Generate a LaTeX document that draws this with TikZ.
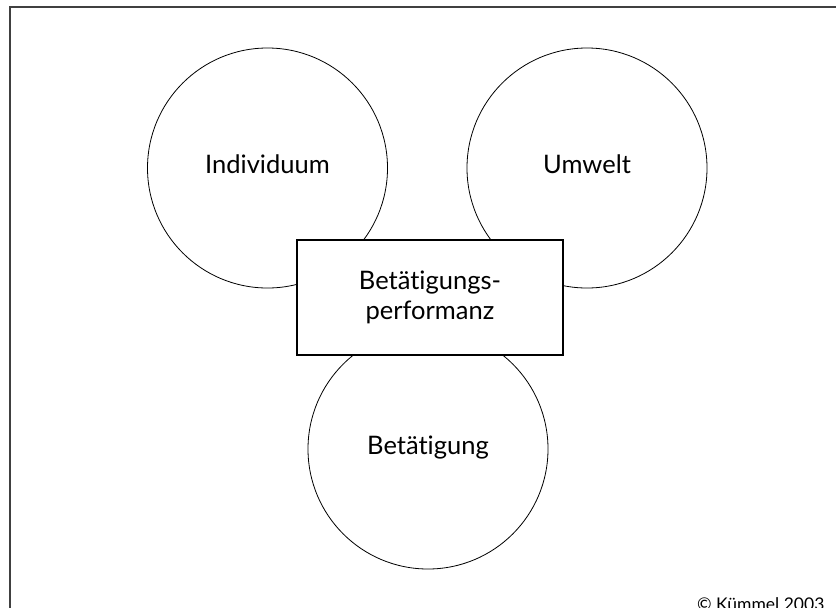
\documentclass[tikz,border=0pt]{standalone}
\usepackage{fontspec}
\setmainfont{Lato}[Ligatures={NoCommon,NoRare}]
% keeps "t" and "i" as separate glyphs
\newcommand{\nolig}{\kern0pt }
\begin{document}
\begin{tikzpicture}[x=1pt,y=-1pt,
  ringnode/.style={draw=black, line width=0.8pt, circle, minimum size=240pt, inner sep=0pt},
  ringtext/.style={font=\fontsize{25.5}{30}\selectfont, inner sep=0pt},
  centerbox/.style={draw=black, fill=white, line width=1.3pt, minimum width=266pt,
    minimum height=115pt, inner sep=0pt, align=center, font=\fontsize{25.5}{30}\selectfont},
  frameline/.style={draw=black!75, line width=1.5pt}]
  \useasboundingbox (0,0) rectangle (836,608);
  \clip (0,0) rectangle (836,608);
  % outer frame, running past the lower and right edges
  \draw[frameline] (10,7) rectangle (860,640);
  % the three domains
  \node[ringnode] (ind) at (267.5,168) {};
  \node[ringnode] (umw) at (587,168) {};
  \node[ringnode] (bet) at (428,449) {};
  \node[ringtext] (indt) at (267.5,164) {Individuum};
  \node[ringtext] (umwt) at (587,164) {Umwelt};
  \node[ringtext] (bett) at (428,448) {Betät\nolig igung};
  % overlapping centre
  \node[centerbox] (perf) at (430,297.5) {Betät\nolig igungs-\\performanz};
  % credit line
  \node[anchor=base west, inner sep=0pt, font=\fontsize{17.5}{20}\selectfont] (copy) at (697,610) {© Kümmel 2003};
\end{tikzpicture}
\end{document}
